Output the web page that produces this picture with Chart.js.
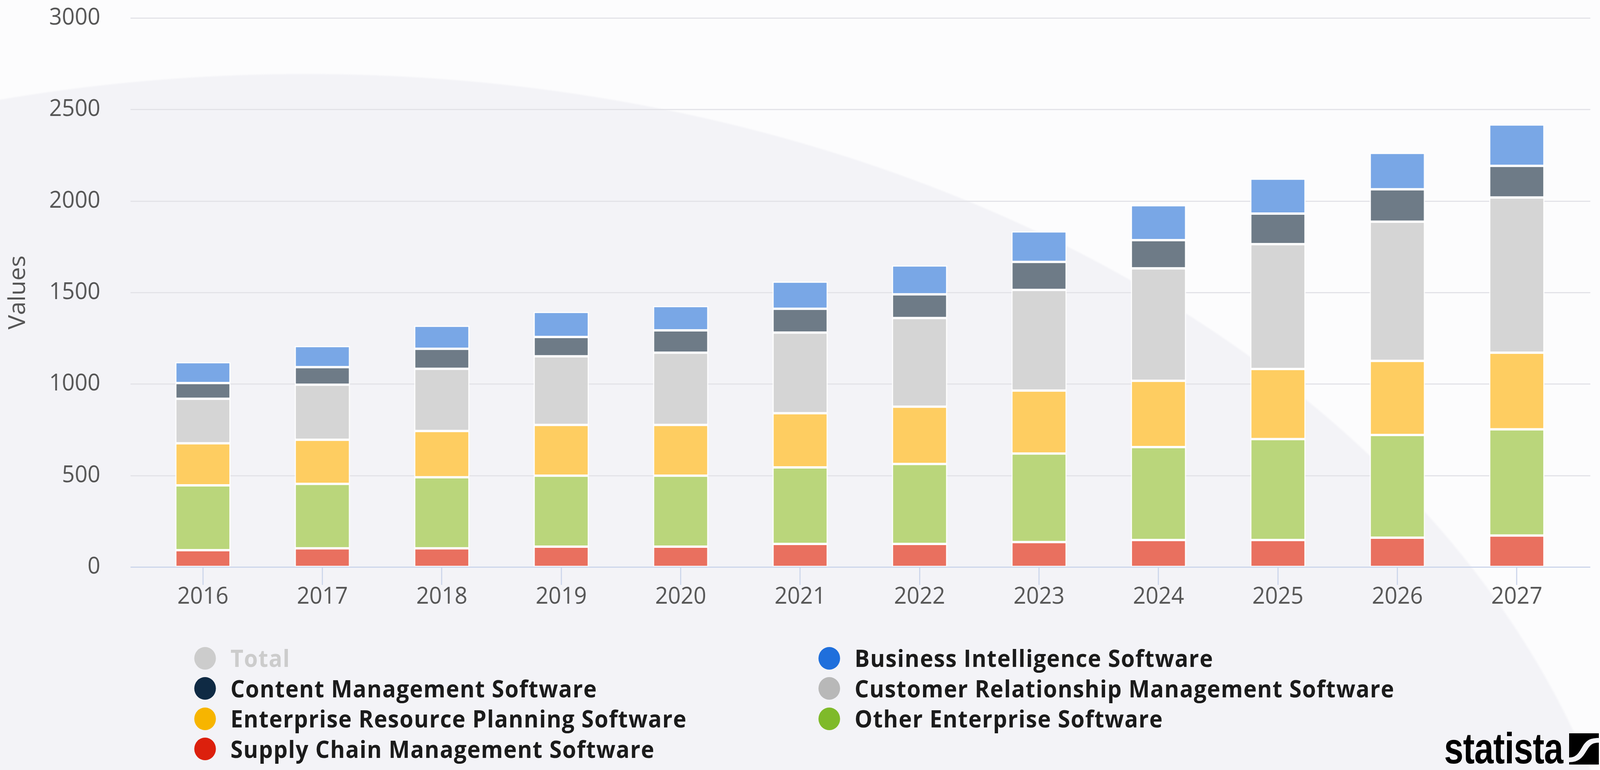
<!DOCTYPE html>
<html>
<head>
<meta charset="utf-8">
<script src="https://cdn.jsdelivr.net/npm/chart.js@4.4.1/dist/chart.umd.min.js"></script>
<style>
html,body{margin:0;padding:0;overflow:hidden;background:#f3f3f7;}
#root{
  position:absolute;left:0;top:0;width:4291px;height:1972px;overflow:hidden;transform-origin:0 0;
  background:radial-gradient(ellipse 3600px 2500px at 820px 2687px,#f3f3f7 99.8%,#fcfcfd 100%);
  font-family:"Open Sans",sans-serif;
}
#c{position:absolute;left:0;top:0;width:4291px;height:1580px;}
#legend{
  position:absolute;left:521px;top:1647px;
  display:grid;grid-template-columns:1674px auto;grid-auto-rows:77.5px;
}
.item{display:flex;align-items:center;height:77.5px;white-space:nowrap;}
.dot{width:58px;height:58px;border-radius:50%;margin-right:39px;flex:none;}
.lbl{font-family:"Open Sans",sans-serif;font-weight:700;font-size:60px;letter-spacing:1.6px;color:#1b1b1b;line-height:77px;}
.off .lbl{color:#cccccc;}
#logo{position:absolute;left:3873px;top:1862px;height:110px;}
#logo .word{position:absolute;left:0;top:0;font-family:"Liberation Sans",Arial,sans-serif;font-weight:700;font-size:112px;
  line-height:110px;color:#000;transform:scaleX(0.83);transform-origin:0 0;letter-spacing:-1px;}
#logo svg{position:absolute;left:335px;top:16px;}
</style>
</head>
<body>
<div id="root">
<canvas id="c" width="4291" height="1580"></canvas>
<div id="legend"></div>
<div id="logo"><span class="word">statista</span>
<svg width="80" height="80" viewBox="0 0 80 80"><rect width="80" height="80" fill="#000"/><path d="M0 62 C20 62 26 50 36 34 C46 18 56 12 80 12 L80 24 C62 24 56 30 46 46 C36 62 26 74 0 74 Z" fill="#f4f4f8"/></svg>
</div>
</div>
<script>
const years = ['2016','2017','2018','2019','2020','2021','2022','2023','2024','2025','2026','2027'];
const supplyChain     = [92,102,102,111,111,126,126,136,147,147,160,172];
const otherEnterprise = [354,352,388,388,388,418,437,484,508,552,561,580];
const erp             = [230,241,253,277,277,296,313,344,362,383,405,419];
const crm             = [243,301,340,375,395,441,484,550,615,682,761,848];
const contentMgmt     = [86,96,109,106,122,130,130,153,154,167,177,173];
const businessIntel   = [114,115,126,137,133,148,158,167,191,191,199,226];
const totals          = [1119,1207,1318,1394,1426,1559,1648,1834,1977,2122,2263,2418];
const yTicks = [0,500,1000,1500,2000,2500,3000];

// fit the 4291-wide design into the actual viewport
const root = document.getElementById('root');
const sx = window.innerWidth / 4291;
const sy = window.innerHeight / 1972;
root.style.transform = 'scale(' + sx + ',' + sy + ')';

const series = [
  {label:'Supply Chain Management Software', data:supplyChain, bar:'#e9705f', dot:'#dc200d'},
  {label:'Other Enterprise Software', data:otherEnterprise, bar:'#bad67b', dot:'#7fba2a'},
  {label:'Enterprise Resource Planning Software', data:erp, bar:'#fecd61', dot:'#f7b500'},
  {label:'Customer Relationship Management Software', data:crm, bar:'#d5d5d5', dot:'#b8b8b8'},
  {label:'Content Management Software', data:contentMgmt, bar:'#6e7b87', dot:'#0f2a44'},
  {label:'Business Intelligence Software', data:businessIntel, bar:'#79a7e6', dot:'#1f6fdc'}
];

const datasets = series.map(s => ({
  label:s.label, data:s.data, backgroundColor:s.bar, borderColor:'#ffffff',
  borderWidth:3, borderSkipped:false, stack:'a',
  categoryPercentage:1.0, barPercentage:0.462
}));
datasets.push({label:'Total', data:totals, hidden:true, stack:'t', backgroundColor:'#cccccc'});

const FONT = '"Open Sans", sans-serif';
const extGrid = {
  id:'extGrid',
  beforeDatasetsDraw(chart){
    const y = chart.scales.y, a = chart.chartArea, ctx = chart.ctx;
    ctx.save();
    ctx.strokeStyle = '#e3e3e8'; ctx.lineWidth = 3;
    yTicks.forEach(v => {
      if (v === 0) return;
      const py = Math.round(y.getPixelForValue(v)) + 0.5;
      ctx.beginPath(); ctx.moveTo(a.left - 34, py); ctx.lineTo(a.right + 37, py); ctx.stroke();
    });
    ctx.restore();
  },
  afterDatasetsDraw(chart){
    const y = chart.scales.y, a = chart.chartArea, ctx = chart.ctx;
    const py = Math.round(y.getPixelForValue(0)) + 0.5;
    ctx.save();
    ctx.strokeStyle = '#ccd6eb'; ctx.lineWidth = 3;
    ctx.beginPath(); ctx.moveTo(a.left - 34, py); ctx.lineTo(a.right + 37, py); ctx.stroke();
    ctx.restore();
  }
};

new Chart(document.getElementById('c'), {
  type:'bar',
  data:{labels:years, datasets:datasets},
  plugins:[extGrid],
  options:{
    responsive:false, devicePixelRatio:1, animation:false,
    layout:{padding:{left:0, right:63, top:46, bottom:8}},
    plugins:{legend:{display:false}, tooltip:{enabled:false}},
    scales:{
      x:{
        stacked:true, offset:true,
        grid:{display:true, drawOnChartArea:false, drawTicks:true, tickLength:46, offset:false, color:'#ccd6eb', lineWidth:3},
        border:{display:false},
        ticks:{font:{family:FONT, size:60}, color:'#555555', padding:-5, maxRotation:0},
        afterFit(s){ s.height = 120; }
      },
      y:{
        stacked:true, min:0, max:3000,
        afterBuildTicks(s){ s.ticks = yTicks.map(v => ({value:v})); },
        grid:{display:false, drawTicks:true, tickLength:115},
        border:{display:false},
        ticks:{font:{family:FONT, size:60}, color:'#555555', padding:0, callback:(v)=>String(v)},
        title:{display:true, text:'Values', font:{family:FONT, size:62}, color:'#555555', padding:{top:12, bottom:0}},
        afterFit(s){ s.width = 384; }
      }
    }
  }
});

const legendOrder = ['Total','Business Intelligence Software','Content Management Software',
  'Customer Relationship Management Software','Enterprise Resource Planning Software',
  'Other Enterprise Software','Supply Chain Management Software'];
const legendEl = document.getElementById('legend');
legendOrder.forEach(name => {
  const s = series.find(x => x.label === name);
  const item = document.createElement('div');
  item.className = 'item' + (s ? '' : ' off');
  const dot = document.createElement('span'); dot.className = 'dot';
  dot.style.background = s ? s.dot : '#cccccc';
  const lbl = document.createElement('span'); lbl.className = 'lbl'; lbl.textContent = name;
  item.appendChild(dot); item.appendChild(lbl); legendEl.appendChild(item);
});
</script>
</body>
</html>
